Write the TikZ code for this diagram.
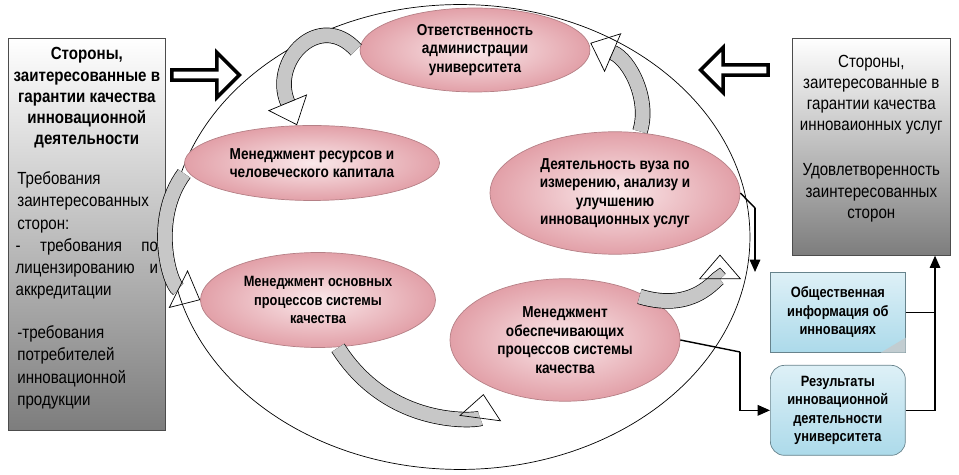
\documentclass[tikz,border=0pt]{standalone}
\usepackage{fontspec}
\setmainfont[FakeStretch=0.86]{Liberation Sans}
\usepackage{tikz}
\usetikzlibrary{positioning, arrows.meta, shapes.geometric, shapes.arrows, backgrounds}
\definecolor{roseFill}{RGB}{226, 160, 168}
\definecolor{roseLight}{RGB}{250, 232, 234}
\definecolor{blueFill}{RGB}{172, 218, 234}
\definecolor{greyDark}{RGB}{125, 125, 125}
\tikzset{
    proc_node/.style={
        ellipse,
        draw=roseFill!80!black,
        inner color=roseLight,
        outer color=roseFill,
        align=center,
        font=\bfseries\fontsize{9}{10.5}\selectfont,
        inner sep=0pt
    },
    side_box/.style={
        rectangle,
        draw=black!70,
        top color=white,
        bottom color=greyDark,
        anchor=north west
    },
    out_box/.style={
        draw=blueFill!60!black,
        top color=blueFill!40,
        bottom color=blueFill,
        align=center,
        font=\bfseries\fontsize{8.5}{10.5}\selectfont,
        minimum width=2.7cm,
        anchor=north west
    },
    cycle_edge/.style={
        draw=black,
        line width=0.4pt,
        double=black!22,
        double distance=8pt,
        -{Triangle[open, width=24pt, length=14pt]}
    },
    info_edge/.style={
        draw=black,
        thick,
        -{Triangle[width=6pt, length=7pt]}
    },
    big_arrow/.style={
        single arrow,
        draw=black,
        line width=2pt,
        fill=white,
        minimum height=1.35cm,
        minimum width=0.9cm,
        single arrow head extend=0.12cm,
        inner sep=0pt
    }
}
\begin{document}
\begin{tikzpicture}[x=0.02cm, y=-0.02cm]
    \useasboundingbox (0,0) rectangle (959,475);

    % outer ellipse
    \node[ellipse, draw, minimum width=11.6cm, minimum height=9.3cm] (cycle) at (460,237) {};

    % stakeholder boxes
    \node[side_box, minimum width=3.14cm, minimum height=7.84cm] (leftbox) at (8,38) {};
    \node[align=center, font=\bfseries\fontsize{10}{12}\selectfont, below=2pt of leftbox.north] (lefthead)
        {Стороны,\\заитересованные в\\гарантии качества\\инновационной\\деятельности};
    \node[text width=2.85cm, inner sep=0pt, align=justify, font=\fontsize{10}{12.6}\selectfont, below=10pt of lefthead] (lefttext)
        {\hspace*{1pt}Требования\\\hspace*{1pt}заинтересованных\\\hspace*{1pt}сторон:\par
         - \hfill требования \hfill по\\лицензированию \hfill и\\аккредитации\par\vspace{12pt}
         \hspace*{1pt}-требования\\\hspace*{1pt}потребителей\\\hspace*{1pt}инновационной\\\hspace*{1pt}продукции};

    \node[side_box, minimum width=3.16cm, minimum height=4.34cm] (rightbox) at (792,38) {};
    \node[align=center, font=\fontsize{10}{12}\selectfont, below=6pt of rightbox.north] (righthead)
        {Стороны,\\заитересованные в\\гарантии качества\\инноваионных услуг};
    \node[align=center, font=\fontsize{10}{12}\selectfont, below=10pt of righthead] (righttext)
        {Удовлетворенность\\заинтересованных\\сторон};

    % process ellipses
    \node[proc_node, minimum width=4.6cm, minimum height=1.68cm] (admin) at (475,50)
        {Ответственность\\администрации\\университета};
    \node[proc_node, minimum width=5.1cm, minimum height=1.5cm] (resource) at (312,163)
        {Менеджмент ресурсов и\\человеческого капитала};
    \node[proc_node, minimum width=5.0cm, minimum height=2.45cm] (measure) at (615,193)
        {Деятельность вуза по\\измерению, анализу и\\улучшению\\инновационных услуг};
    \node[proc_node, minimum width=4.7cm, minimum height=1.9cm, font=\bfseries\fontsize{8.5}{10.5}\selectfont] (mainproc) at (318,300)
        {Менеджмент основных\\процессов системы\\качества};
    \node[proc_node, minimum width=4.6cm, minimum height=2.45cm] (support) at (565,340)
        {Менеджмент\\обеспечивающих\\процессов системы\\качества};

    % cycle arrows
    \draw[cycle_edge] ([xshift=-2pt]admin.west) .. controls (320,10) and (270,60) .. ([xshift=-0.3cm]resource.north);
    \draw[cycle_edge] ([yshift=-6pt]resource.west) .. controls (150,220) and (170,285) .. (mainproc.west);
    \draw[cycle_edge] ([xshift=0.4cm]mainproc.south) .. controls (390,430) and (480,420) .. ([yshift=-6pt]support.south west);
    \draw[cycle_edge] ([xshift=-4pt]support.north east) .. controls (700,315) and (720,270) .. ([xshift=2.1cm]measure.south);
    \draw[cycle_edge] ([xshift=0.5cm]measure.north) .. controls (650,100) and (630,60) .. ([yshift=4pt]admin.east);

    % stakeholder arrows
    \node[big_arrow] (inarrow) at (203,75) {};
    \node[big_arrow, shape border rotate=180] (outarrow) at (737,70) {};

    % outputs
    \node[out_box, minimum height=1.6cm] (publicinfo) at (770,272)
        {Общественная\\информация об\\инновациях};
    \fill[blueFill!60!black!40] ([xshift=-0.5cm]publicinfo.south east) -- ++(0.5cm,0.3cm) -- ++(0,-0.3cm) -- cycle;
    \node[out_box, rounded corners=8pt, minimum height=1.8cm] (results) at (770,365)
        {Результаты\\инновационной\\деятельности\\университета};

    % information flow
    \coordinate (c1) at (755,208);
    \draw[thick] (measure.east) -- (c1);
    \draw[info_edge] (c1) -- (c1|-publicinfo.north);
    \coordinate (c2) at (740,352);
    \draw[thick] (support.east) -- (c2);
    \draw[info_edge] (c2) |- (results.west);
    \coordinate (c3) at (935,312);
    \draw[thick] (publicinfo.east) -- (publicinfo.east-|c3);
    \draw[info_edge] (results.east) -| (rightbox.south-|c3);
\end{tikzpicture}
\end{document}
